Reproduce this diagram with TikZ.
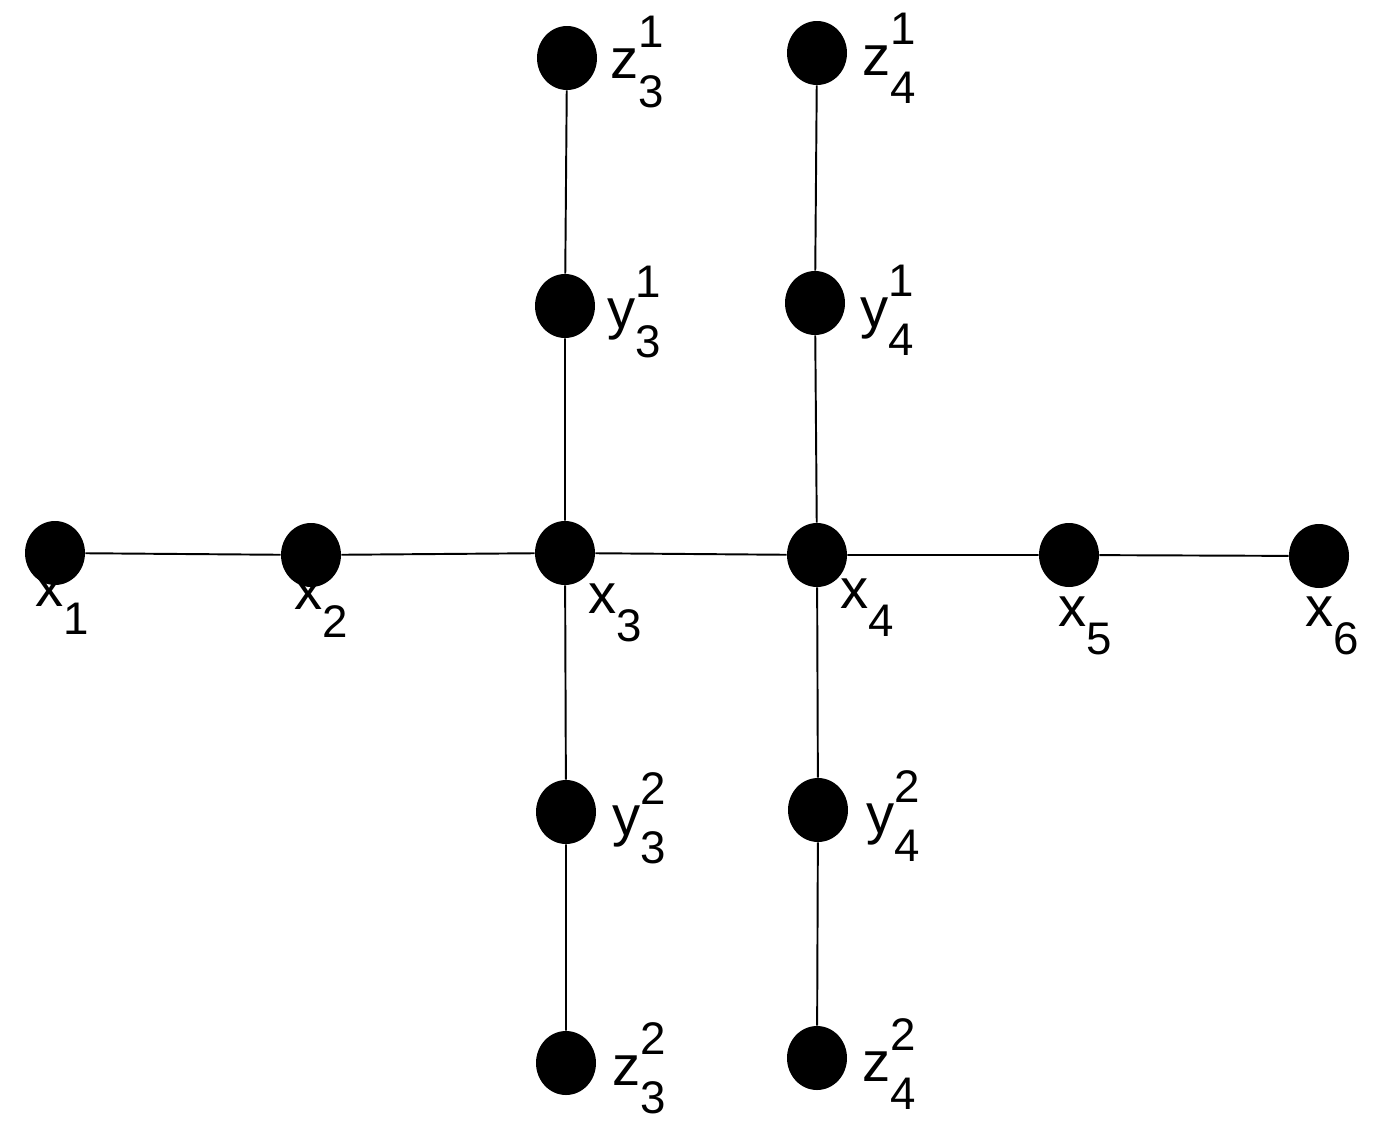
\documentclass[tikz,border=0pt]{standalone}
\usepackage{fontspec}
\setmainfont{Liberation Sans}
\usetikzlibrary{shapes.geometric}
\newcommand\lbl[3]{#1\raisebox{-0.5em}{\fontsize{26}{26}\selectfont #3}\llap{\raisebox{0.55em}{\fontsize{26}{26}\selectfont #2}}}
\begin{document}
\begin{tikzpicture}[x=0.02cm,y=-0.02cm,
  v/.style={ellipse,fill=black,minimum width=60*0.02cm,minimum height=64*0.02cm,inner sep=0pt},
  t/.style={font=\fontsize{32}{32}\selectfont,inner sep=0pt},
  e/.style={line width=1.1pt}]
\useasboundingbox (0,0) rectangle (1380,1137);
\node[v] (x1) at (55,553) {};
\node[v] (x2) at (311,555) {};
\node[v] (x3) at (565,553) {};
\node[v] (x4) at (817,555) {};
\node[v] (x5) at (1069,555) {};
\node[v] (x6) at (1319,556) {};
\node[v] (z31) at (567,58) {};
\node[v] (y31) at (565,306) {};
\node[v] (y32) at (566,812) {};
\node[v] (z32) at (566,1063) {};
\node[v] (z41) at (817,53) {};
\node[v] (y41) at (815,303) {};
\node[v] (y42) at (818,810) {};
\node[v] (z42) at (817,1058) {};
\draw[e] (x1)--(x2)--(x3)--(x4)--(x5)--(x6);
\draw[e] (z31)--(y31)--(x3)--(y32)--(z32);
\draw[e] (z41)--(y41)--(x4)--(y42)--(z42);
\node[t,anchor=west] (lx1) at (35,605) {\lbl{x}{}{1}};
\node[t,anchor=west] (lx2) at (294,608) {\lbl{x}{}{2}};
\node[t,anchor=west] (lx3) at (588,612) {\lbl{x}{}{3}};
\node[t,anchor=west] (lx4) at (840,607) {\lbl{x}{}{4}};
\node[t,anchor=west] (lx5) at (1058,625) {\lbl{x}{}{5}};
\node[t,anchor=west] (lx6) at (1305,625) {\lbl{x}{}{6}};
\node[t,anchor=west] (lz31) at (610,62) {\lbl{z}{1}{3}};
\node[t,anchor=west] (ly31) at (607,312) {\lbl{y}{1}{3}};
\node[t,anchor=west] (ly32) at (612,818) {\lbl{y}{2}{3}};
\node[t,anchor=west] (lz32) at (612,1068) {\lbl{z}{2}{3}};
\node[t,anchor=west] (lz41) at (862,58) {\lbl{z}{1}{4}};
\node[t,anchor=west] (ly41) at (860,310) {\lbl{y}{1}{4}};
\node[t,anchor=west] (ly42) at (866,816) {\lbl{y}{2}{4}};
\node[t,anchor=west] (lz42) at (862,1064) {\lbl{z}{2}{4}};
\end{tikzpicture}
\end{document}
